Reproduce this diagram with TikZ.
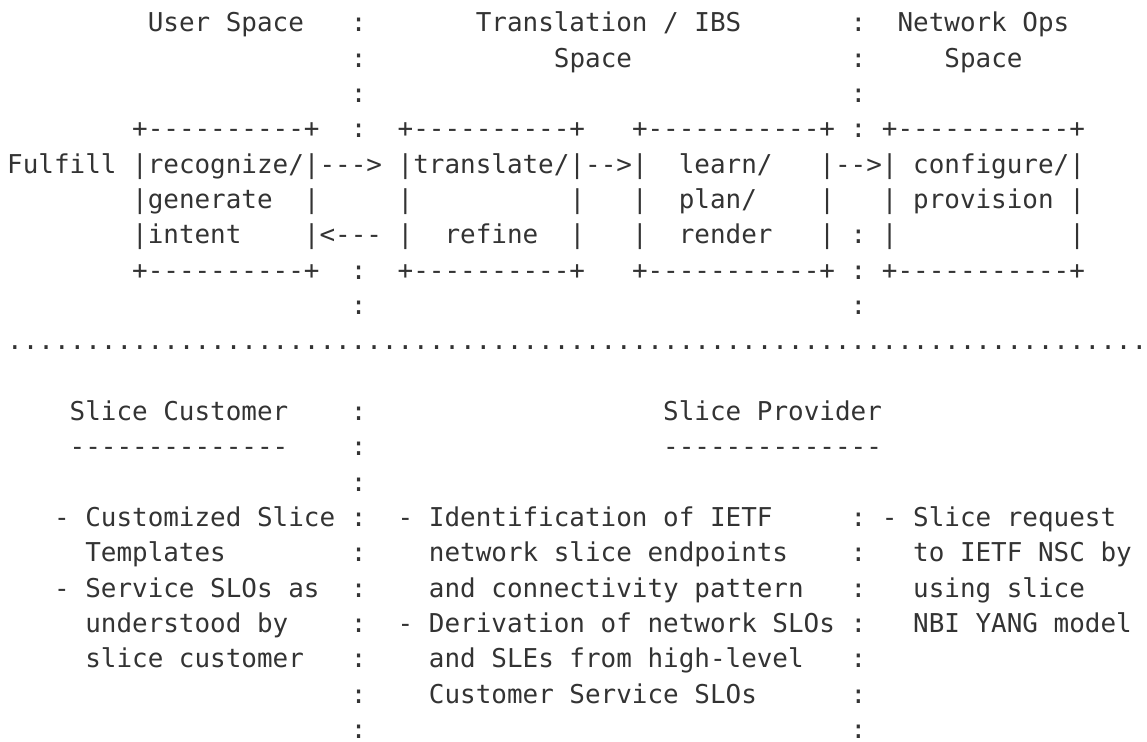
\documentclass[tikz,border=0pt]{standalone}
\usepackage{fontspec}
\usepackage{tikz}
\setmonofont{DejaVu Sans Mono}
\definecolor{ink}{HTML}{333333}

\begin{document}
\begin{tikzpicture}[x=7.81pt,y=-17.665pt,font=\ttfamily\fontsize{12.97pt}{17.665pt}\selectfont]
\tikzstyle{txt}=[anchor=base west,inner sep=0pt,outer sep=0pt,text=ink];
\useasboundingbox (-3.6pt,16pt) rectangle (569.9pt,-355pt);

% headings of the three spaces
\node [txt] (usr) at (9,0) {User Space};
\node [txt] (trn) at (30,0) {Translation / IBS};
\node [txt] (trs) at (35,1) {Space};
\node [txt] (ops) at (57,0) {Network Ops};
\node [txt] (ops2) at (60,1) {Space};

% dotted borders
\node [txt] (l0) at (22,0) {:};
\node [txt] (l1) at (22,1) {:};
\node [txt] (l2) at (22,2) {:};
\node [txt] (l3) at (22,3) {:};
\node [txt] (l7) at (22,7) {:};
\node [txt] (l8) at (22,8) {:};
\node [txt] (r0) at (54,0) {:};
\node [txt] (r1) at (54,1) {:};
\node [txt] (r2) at (54,2) {:};
\node [txt] (r3) at (54,3) {:};
\node [txt] (r6) at (54,6) {:};
\node [txt] (r7) at (54,7) {:};
\node [txt] (r8) at (54,8) {:};

% boxes
\node [txt] (b1t) at (8,3) {+----------+};
\node [txt] (b2t) at (25,3) {+----------+};
\node [txt] (b3t) at (40,3) {+-----------+};
\node [txt] (b4t) at (56,3) {+-----------+};
\node [txt] (ful) at (0,4) {Fulfill};
\node [txt] (b1a) at (8,4) {|recognize/|};
\node [txt] (b2a) at (25,4) {|translate/|};
\node [txt] (b3a) at (40,4) {|};
\node [txt] (lrn) at (43,4) {learn/};
\node [txt] (b3a2) at (52,4) {|};
\node [txt] (b4a) at (56,4) {|};
\node [txt] (cfg) at (58,4) {configure/|};
\node [txt] (b1b) at (8,5) {|generate};
\node [txt] (b1b2) at (19,5) {|};
\node [txt] (b2b) at (25,5) {|};
\node [txt] (b2b2) at (36,5) {|};
\node [txt] (b3b) at (40,5) {|};
\node [txt] (pln) at (43,5) {plan/};
\node [txt] (b3b2) at (52,5) {|};
\node [txt] (b4b) at (56,5) {| provision |};
\node [txt] (b1c) at (8,6) {|intent};
\node [txt] (b1c2) at (19,6) {|};
\node [txt] (b2c) at (25,6) {|};
\node [txt] (ref) at (28,6) {refine};
\node [txt] (b2c2) at (36,6) {|};
\node [txt] (b3c) at (40,6) {|};
\node [txt] (rnd) at (43,6) {render};
\node [txt] (b3c2) at (52,6) {|};
\node [txt] (b4c) at (56,6) {|};
\node [txt] (b4c2) at (68,6) {|};
\node [txt] (b1d) at (8,7) {+----------+};
\node [txt] (b2d) at (25,7) {+----------+};
\node [txt] (b3d) at (40,7) {+-----------+};
\node [txt] (b4d) at (56,7) {+-----------+};

% arrows
\node [txt] (fw1) at (20,4) {--->};
\node [txt] (fw2) at (37,4) {-->};
\node [txt] (fw3) at (53,4) {-->};
\node [txt] (bk1) at (20,6) {<---};

% split line
\node [txt] (cut) at (0,9) {.........................................................................};

% customer / provider
\node [txt] (cus) at (4,11) {Slice Customer};
\node [txt] (cusl) at (4,12) {--------------};
\node [txt] (prv) at (42,11) {Slice Provider};
\node [txt] (prvl) at (42,12) {--------------};
\node [txt] (l11) at (22,11) {:};
\node [txt] (l12) at (22,12) {:};
\node [txt] (l13) at (22,13) {:};
\node [txt] (l14) at (22,14) {:};
\node [txt] (l15) at (22,15) {:};
\node [txt] (l16) at (22,16) {:};
\node [txt] (l17) at (22,17) {:};
\node [txt] (l18) at (22,18) {:};
\node [txt] (l19) at (22,19) {:};
\node [txt] (l20) at (22,20) {:};
\node [txt] (r14) at (54,14) {:};
\node [txt] (r15) at (54,15) {:};
\node [txt] (r16) at (54,16) {:};
\node [txt] (r17) at (54,17) {:};
\node [txt] (r18) at (54,18) {:};
\node [txt] (r19) at (54,19) {:};
\node [txt] (r20) at (54,20) {:};

\node [txt] (c1) at (3,14) {- Customized Slice};
\node [txt] (c2) at (5,15) {Templates};
\node [txt] (c3) at (3,16) {- Service SLOs as};
\node [txt] (c4) at (5,17) {understood by};
\node [txt] (c5) at (5,18) {slice customer};

\node [txt] (p1) at (25,14) {- Identification of IETF};
\node [txt] (p2) at (27,15) {network slice endpoints};
\node [txt] (p3) at (27,16) {and connectivity pattern};
\node [txt] (p4) at (25,17) {- Derivation of network SLOs};
\node [txt] (p5) at (27,18) {and SLEs from high-level};
\node [txt] (p6) at (27,19) {Customer Service SLOs};

\node [txt] (n1) at (56,14) {- Slice request};
\node [txt] (n2) at (58,15) {to IETF NSC by};
\node [txt] (n3) at (58,16) {using slice};
\node [txt] (n4) at (58,17) {NBI YANG model};
\end{tikzpicture}
\end{document}
